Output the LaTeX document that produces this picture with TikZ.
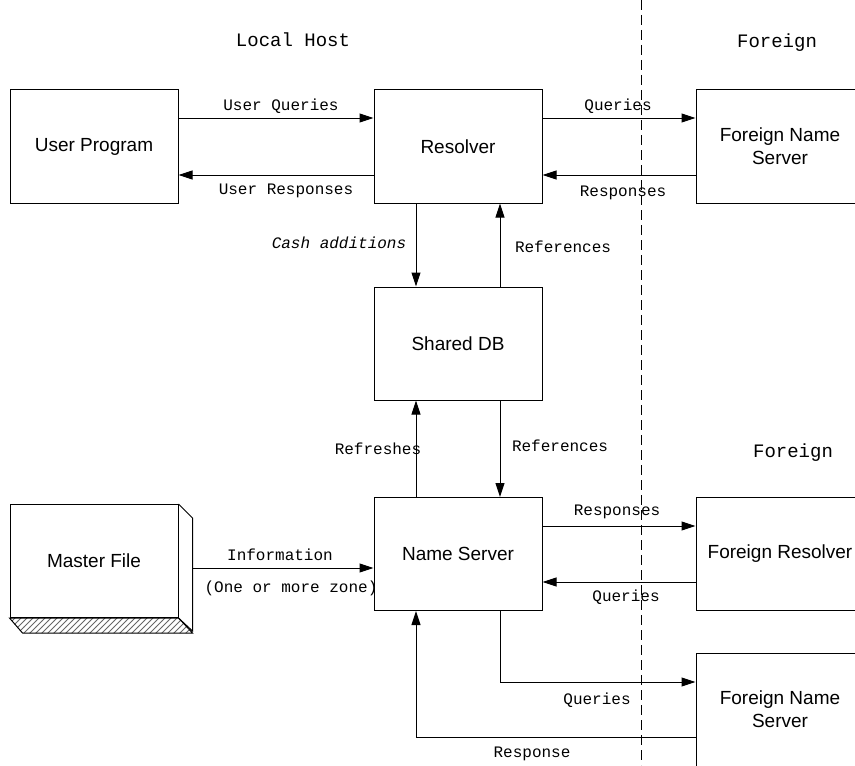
\documentclass[tikz,border=0pt]{standalone}
\usepackage{fontspec}
\setsansfont{Liberation Sans}
\setmonofont{Liberation Mono}
\usetikzlibrary{arrows.meta,patterns}

\tikzset{
	unit/.style={draw, line width=0.5pt, minimum width=84pt, minimum height=56.5pt,
		inner sep=0pt, align=center, font=\sffamily\fontsize{9.5}{11.5}\selectfont},
	flow/.style={line width=0.5pt, -{Triangle[length=7pt,width=4.5pt]}},
	tag/.style={font=\ttfamily\fontsize{8}{9}\selectfont, inner sep=0pt},
	side/.style={font=\ttfamily\fontsize{9.5}{11}\selectfont, inner sep=0pt},
}

\begin{document}
\begin{tikzpicture}[x=0.5pt, y=-0.5pt]
	\useasboundingbox (0,0) rectangle (855,765);
	\clip (0,0) rectangle (855,765);
	
	% border between local host and foreign side
	\coordinate (B1) at (641,0);
	\coordinate (B2) at (641,765);
	\draw[line width=0.5pt, dash pattern=on 5pt off 2.5pt] (B1) -- (B2);
	
	\node[side] (Local) at (293,40) {Local Host};
	\node[side] (Foreign1) at (777,43) {Foreign};
	\node[side] (Foreign2) at (793,453) {Foreign};
	
	\node[unit] (User) at (94,146.5) {User Program};
	\node[unit] (Resolver) at (458,146.5) {Resolver};
	\node[unit] (FNS1) at (780,146.5) {Foreign Name\\Server};
	\node[unit] (DB) at (458,343.5) {Shared DB};
	\node[unit] (NS) at (458,554) {Name Server};
	\node[unit] (FR) at (780,554) {Foreign Resolver};
	\node[unit] (FNS2) at (780,709.5) {Foreign Name\\Server};
	\node[unit] (Master) at (94,561) {Master File};
	
	% side and bottom of the master file
	\draw[line width=0.5pt] (Master.north east) -- ++(14,14) -- ++(0,113) -- (Master.south east);
	\draw[line width=0.5pt, pattern=north east lines, pattern color=black!60] (Master.south west)
		-- (Master.south east) -- ++(14,15) -- ++(-170,0) -- cycle;
	\coordinate (MF) at (192,568);
	
	\draw[flow] ([yshift=14.25pt]User.east) -- ([yshift=14.25pt]Resolver.west);
	\draw[flow] ([yshift=-14.25pt]Resolver.west) -- ([yshift=-14.25pt]User.east);
	\draw[flow] ([yshift=14.25pt]Resolver.east) -- ([yshift=14.25pt]FNS1.west);
	\draw[flow] ([yshift=-14.25pt]FNS1.west) -- ([yshift=-14.25pt]Resolver.east);
	
	\draw[flow] ([xshift=-21pt]Resolver.south) -- ([xshift=-21pt]DB.north);
	\draw[flow] ([xshift=21pt]DB.north) -- ([xshift=21pt]Resolver.south);
	\draw[flow] ([xshift=-21pt]NS.north) -- ([xshift=-21pt]DB.south);
	\draw[flow] ([xshift=21pt]DB.south) -- ([xshift=21pt]NS.north);
	
	\draw[flow] (MF) -- (NS.west |- MF);
	\draw[flow] ([yshift=14pt]NS.east) -- ([yshift=14pt]FR.west);
	\draw[flow] ([yshift=-14pt]FR.west) -- ([yshift=-14pt]NS.east);
	\draw[flow] ([xshift=21pt]NS.south) |- ([yshift=13.75pt]FNS2.west);
	\draw[flow] ([yshift=-13.75pt]FNS2.west) -| ([xshift=-21pt]NS.south);
	
	\node[tag] (UQ) at (281,106) {User Queries};
	\node[tag] (UR) at (286,191) {User Responses};
	\node[tag] (Q1) at (618,106) {Queries};
	\node[tag] (R1) at (623,193) {Responses};
	\node[tag, font=\ttfamily\itshape\fontsize{8}{9}\selectfont] (Cash) at (339,243) {Cash additions};
	\node[tag] (Ref1) at (563,247) {References};
	\node[tag] (Refr) at (378,449) {Refreshes};
	\node[tag] (Ref2) at (560,446) {References};
	\node[tag] (Info) at (280,555) {Information};
	\node[tag] (Zone) at (291,588) {(One or more zone)};
	\node[tag] (R2) at (617,512) {Responses};
	\node[tag] (Q2) at (626,597) {Queries};
	\node[tag] (Q3) at (597,700) {Queries};
	\node[tag] (R3) at (532,754) {Response};
	
\end{tikzpicture}
\end{document}
